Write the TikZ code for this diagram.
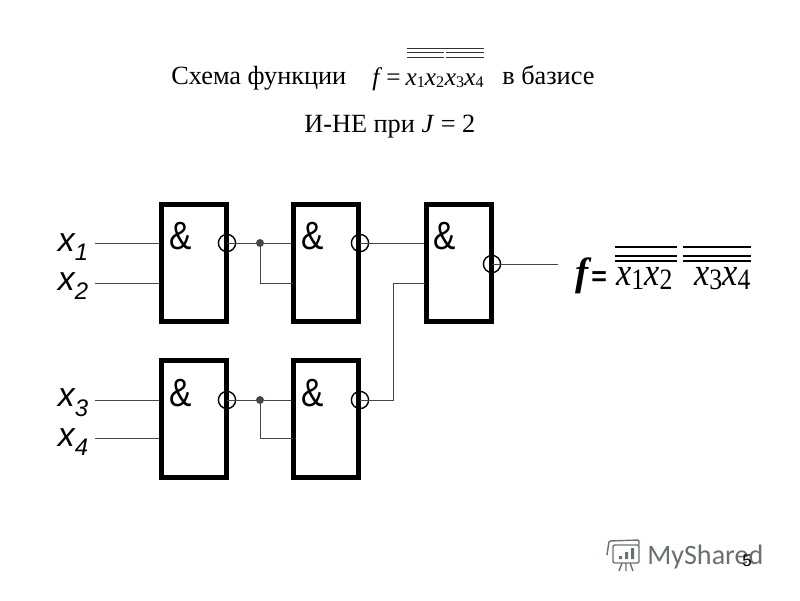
\documentclass[tikz,border=0pt]{standalone}
\usepackage{fontspec}
\setmainfont{Liberation Serif}
\newfontfamily\labelfont{Liberation Sans}
\newfontfamily\markfont{Carlito}
\usepackage{xcolor}
\definecolor{wirecol}{RGB}{70,70,70}
\definecolor{markcol}{RGB}{105,112,112}
\newcommand{\smalldig}[1]{{\fontsize{11.5}{11.5}\selectfont\raisebox{-0.4ex}{#1}}}
\newcommand{\bigdig}[1]{{\fontsize{21}{21}\selectfont\raisebox{-0.35ex}{#1}}}
\newcommand{\indig}[1]{\raisebox{-0.55ex}{\fontsize{17}{17}\selectfont #1}}
\tikzset{
    gatebox/.style={draw, line width=1.3mm, minimum width=1.625cm, minimum height=2.925cm, inner sep=0pt},
    ampsign/.style={font=\labelfont\fontsize{28}{28}\selectfont, inner sep=0pt},
    invcirc/.style={circle, draw, line width=0.35mm, minimum size=0.43cm, inner sep=0pt},
    jointdot/.style={circle, fill=wirecol, minimum size=0.2cm, inner sep=0pt},
    wire/.style={draw=wirecol, line width=0.25mm},
    inlabel/.style={font=\labelfont\itshape\fontsize{24}{24}\selectfont, inner sep=0pt},
    titletext/.style={font=\fontsize{18.7}{20}\selectfont, inner sep=0pt},
    barline/.style={draw=black!80, line width=0.2mm}
}
\begin{document}
\begin{tikzpicture}[x=0.025cm, y=-0.025cm]
    \useasboundingbox (0,0) rectangle (800,600);
    % title
    \node[titletext, anchor=base west] (title1) at (171,84) {Схема функции};
    \node[titletext, anchor=base west] (title2) at (502,84) {в базисе};
    \node[titletext, anchor=base west] (title3) at (304,132) {И-НЕ при \textit{J} = 2};
    \node[anchor=base west, inner sep=0pt, font=\fontsize{18}{18}\selectfont] (titlef) at (372,85)
        {\textit{f}\kern3pt=\kern3.5pt\textit{x}\smalldig{1}\textit{x}\smalldig{2}\kern0.5pt\textit{x}\smalldig{3}\textit{x}\smalldig{4}};
    \draw[barline] (407,48) -- (484,48);
    \draw[barline] (407,52.5) -- (444,52.5) (446,52.5) -- (484,52.5);
    \draw[barline] (407,57) -- (444,57) (446,57) -- (484,57);
    % gates
    \node[gatebox] (g1) at (194,263) {};
    \node[gatebox] (g2) at (326,263) {};
    \node[gatebox] (g3) at (459,263) {};
    \node[gatebox] (g4) at (194,419) {};
    \node[gatebox] (g5) at (326,419) {};
    \foreach \g/\px/\py in {g1/181/236, g2/313/236, g3/445/236, g4/181/393, g5/313/393}
        \node[ampsign] (amp\g) at (\px,\py) {\scalebox{0.85}[1]{\&}};
    % inversions
    \node[invcirc] (n1) at (227,243) {};
    \node[invcirc] (n2) at (360,243) {};
    \node[invcirc] (n3) at (492,264) {};
    \node[invcirc] (n4) at (227,400) {};
    \node[invcirc] (n5) at (360,400) {};
    % inputs
    \node[inlabel] (x1) at (73,247) {x\indig{1}};
    \node[inlabel] (x2) at (73,286) {x\indig{2}};
    \node[inlabel] (x3) at (73,403) {x\indig{3}};
    \node[inlabel] (x4) at (73,442) {x\indig{4}};
    \coordinate (i1) at (95,243);
    \coordinate (i2) at (95,283);
    \coordinate (i3) at (95,400);
    \coordinate (i4) at (95,438);
    \draw[wire] (i1) -- (i1 -| g1.west);
    \draw[wire] (i2) -- (i2 -| g1.west);
    \draw[wire] (i3) -- (i3 -| g4.west);
    \draw[wire] (i4) -- (i4 -| g4.west);
    % joints
    \node[jointdot] (d1) at (260,243) {};
    \node[jointdot] (d2) at (260,400) {};
    \coordinate (a1) at (293,283);
    \coordinate (a2) at (293,438);
    \coordinate (b1) at (425,283);
    \coordinate (out) at (558,264);
    \draw[wire] (n1.center) -- (d1) -- (d1 -| g2.west);
    \draw[wire] (d1) |- (a1);
    \draw[wire] (n4.center) -- (d2) -- (d2 -| g5.west);
    \draw[wire] (d2) |- (a2);
    \draw[wire] (n2.center) -- (n2 -| g3.west);
    \draw[wire] (n5.center) -- (393,400) |- (b1);
    \draw[wire] (n3.center) -- (out);
    % result
    \node[anchor=base west, inner sep=0pt, font=\bfseries\itshape\fontsize{28}{28}\selectfont] (fres) at (575,285) {f};
    \node[anchor=base west, inner sep=0pt, font=\bfseries\labelfont\fontsize{19}{19}\selectfont] (eqres) at (591,285) {=};
    \node[anchor=base west, inner sep=0pt, font=\fontsize{28}{28}\selectfont] (xres1) at (616,285)
        {\scalebox{0.87}[1]{\textit{x}\bigdig{1}\textit{x}\bigdig{2}}};
    \node[anchor=base west, inner sep=0pt, font=\fontsize{28}{28}\selectfont] (xres2) at (694,285)
        {\scalebox{0.87}[1]{\textit{x}\bigdig{3}\textit{x}\bigdig{4}}};
    \draw[line width=0.5mm] (615,247) -- (677,247) (683,247) -- (751,247);
    \draw[line width=0.3mm] (615,256) -- (677,256) (683,256) -- (751,256);
    \draw[line width=0.3mm] (615,261) -- (677,261) (683,261) -- (751,261);
    % watermark
    \draw[markcol, line width=0.35mm, rounded corners=1pt] (613,545) rectangle (639,563);
    \draw[markcol, line width=0.35mm, rounded corners=1pt] (607,555) -- (609,541) -- (639,540) -- (639,545);
    \fill[markcol] (619,556) rectangle (622,559) (625,552) rectangle (628,559) (631,548) rectangle (634,559);
    \draw[markcol, line width=0.35mm] (622,563) -- (619,571) (626,563) -- (626,571) (630,563) -- (633,571);
    \node[anchor=base west, inner sep=0pt, text=markcol, font=\markfont\fontsize{20}{20}\selectfont] (mark) at (647,564) {MyShared};
    \node[anchor=base, inner sep=0pt, font=\labelfont\fontsize{12}{12}\selectfont] (page) at (747,566) {5};
\end{tikzpicture}
\end{document}
